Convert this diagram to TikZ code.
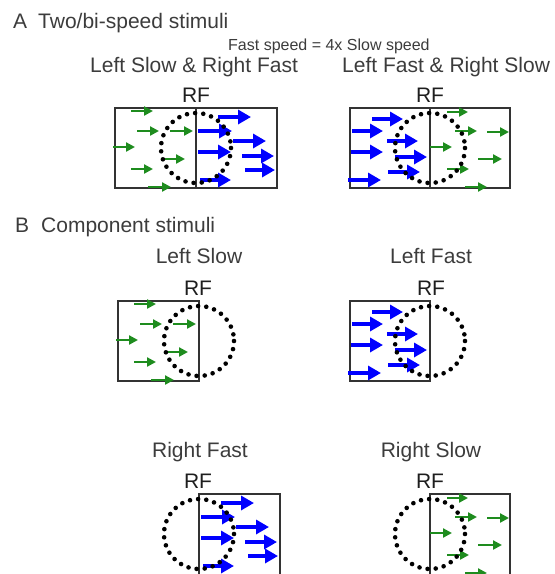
\documentclass[tikz,border=0pt]{standalone}
\usepackage{fontspec}
\setmainfont{Liberation Sans}
\usetikzlibrary{arrows.meta}
\definecolor{gar}{HTML}{1E8C1E}
\definecolor{bar}{HTML}{0000FF}
\definecolor{txt}{HTML}{3C3C3C}
\definecolor{rft}{HTML}{1E1E1E}
\definecolor{boxc}{HTML}{333333}
\newcommand{\mygreenL}{%
  \draw[garrow] (131,111) -- (153,111);
  \draw[garrow] (137,131) -- (159,131);
  \draw[garrow] (113,147) -- (135,147);
  \draw[garrow] (170,131) -- (193,131);
  \draw[garrow] (163,159) -- (185,159);
  \draw[garrow] (131,169) -- (153,169);
  \draw[garrow] (148,187) -- (171,187);
}
\newcommand{\myblueR}{%
  \draw[barrow] (218,117) -- (251,117);
  \draw[barrow] (198,131) -- (232,131);
  \draw[barrow] (233,141) -- (266,141);
  \draw[barrow] (198,152) -- (231,152);
  \draw[barrow] (242,156) -- (274,156);
  \draw[barrow] (245,170) -- (275,170);
  \draw[barrow] (200,180) -- (231,180);
}
\newcommand{\myblueL}{%
  \draw[barrow] (372,119) -- (403,119);
  \draw[barrow] (352,131) -- (383,131);
  \draw[barrow] (387,141) -- (418,141);
  \draw[barrow] (351,152) -- (383,152);
  \draw[barrow] (395,157) -- (427,157);
  \draw[barrow] (388,172) -- (420,172);
  \draw[barrow] (348,180) -- (381,180);
}
\newcommand{\mygreenR}{%
  \draw[garrow] (447,112) -- (468,112);
  \draw[garrow] (455,131) -- (477,131);
  \draw[garrow] (487,132) -- (509,132);
  \draw[garrow] (430,147) -- (452,147);
  \draw[garrow] (478,159) -- (502,159);
  \draw[garrow] (447,169) -- (469,169);
  \draw[garrow] (465,187) -- (487,187);
}
\begin{document}
\begin{tikzpicture}[x=1pt,y=-1pt,
  garrow/.style={draw=gar,line width=2.6pt,-{Triangle[length=9pt,width=9pt]}},
  barrow/.style={draw=bar,line width=4.6pt,-{Triangle[length=13pt,width=14pt]}},
  rfbox/.style={draw=boxc,line width=1.3pt},
  rfcirc/.style={draw=black,line width=4.6pt,line cap=round,dash pattern=on 0pt off 8.2pt},
  lab/.style={font=\fontsize{21}{25}\selectfont,text=txt,inner sep=0pt,anchor=base},
  small/.style={font=\fontsize{16}{19}\selectfont,text=txt,inner sep=0pt,anchor=base west},
  rf/.style={font=\fontsize{21}{25}\selectfont,text=rft,inner sep=0pt,anchor=base},
]
\useasboundingbox (0,0) rectangle (555,574);
\clip (0,0) rectangle (555,574);

% ---------- texts ----------
\node[lab,anchor=base west] (titA) at (13,28) {A\hspace{11pt}Two/bi-speed stimuli};
\node[small] (note) at (228,50) {Fast speed = 4x Slow speed};
\node[lab,anchor=base west] (h1) at (90,72) {Left Slow \& Right Fast};
\node[lab,anchor=base west] (h2) at (342,72) {Left Fast \& Right Slow};
\node[rf] (rf1) at (196,102) {RF};
\node[rf] (rf2) at (430,102) {RF};

\node[lab,anchor=base west] (titB) at (15,232) {B\hspace{12pt}Component stimuli};
\node[lab] (h3) at (199,263) {Left Slow};
\node[lab] (h4) at (431,263) {Left Fast};
\node[rf] (rf3) at (198,295) {RF};
\node[rf] (rf4) at (431,295) {RF};
\node[lab] (h5) at (200,457) {Right Fast};
\node[lab] (h6) at (431,457) {Right Slow};
\node[rf] (rf5) at (198,488) {RF};
\node[rf] (rf6) at (430,488) {RF};

% ---------- A left: Left Slow & Right Fast ----------
\draw[rfbox] (115,108) rectangle (277,188);
\draw[rfbox] (196,108) -- (196,188);
\mygreenL
\myblueR
\draw[rfcirc] (196,148) circle[radius=35];

% ---------- A right: Left Fast & Right Slow ----------
\draw[rfbox] (350,108) rectangle (510,188);
\draw[rfbox] (430,108) -- (430,188);
\myblueL
\mygreenR
\draw[rfcirc] (430,148) circle[radius=35];

% ---------- B: Left Slow ----------
\begin{scope}[shift={(3,193)}]
\draw[rfbox] (115,108) rectangle (196,188);
\mygreenL
\draw[rfcirc] (196,148) circle[radius=35];
\end{scope}

% ---------- B: Left Fast ----------
\begin{scope}[shift={(0,193)}]
\draw[rfbox] (350,108) rectangle (430,188);
\myblueL
\draw[rfcirc] (430,148) circle[radius=35];
\end{scope}

% ---------- B: Right Fast ----------
\begin{scope}[shift={(3,386)}]
\draw[rfbox] (196,200) -- (196,108) -- (277,108) -- (277,200);
\myblueR
\draw[rfcirc] (196,148) circle[radius=35];
\end{scope}

% ---------- B: Right Slow ----------
\begin{scope}[shift={(0,386)}]
\draw[rfbox] (430,200) -- (430,108) -- (510,108) -- (510,200);
\mygreenR
\draw[rfcirc] (430,148) circle[radius=35];
\end{scope}
\end{tikzpicture}
\end{document}
